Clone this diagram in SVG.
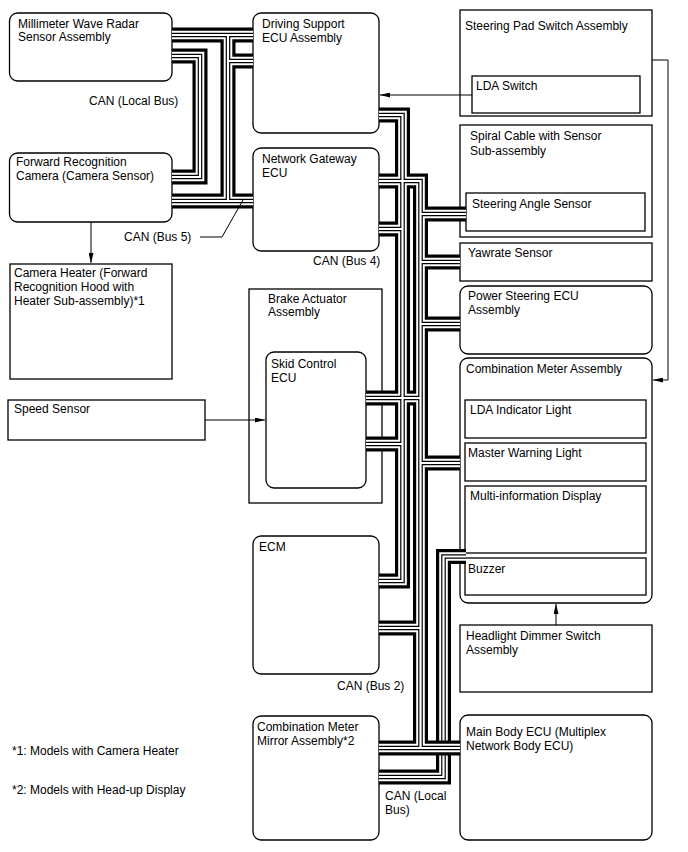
<svg xmlns="http://www.w3.org/2000/svg" width="688" height="852" viewBox="0 0 688 852">
<style>
text{font-family:"Liberation Sans",Arial,Helvetica,sans-serif;font-size:12px;fill:#000}
.box{fill:#fff;stroke:#000;stroke-width:1.3}
.ln{fill:none;stroke:#000;stroke-width:1}
.b1{fill:none;stroke:#000;stroke-width:15}
.b2{fill:none;stroke:#fff;stroke-width:8.6}
.b3{fill:none;stroke:#000;stroke-width:4.6}
.b4{fill:none;stroke:#fff;stroke-width:2.2}
</style>
<defs>
<marker id="arr" viewBox="0 0 10 5" refX="10" refY="2.5" markerWidth="10" markerHeight="5" markerUnits="userSpaceOnUse" orient="auto"><path d="M0,0 L10,2.5 L0,5 z" fill="#000"/></marker>
<path id="busLocal2" d="M379,777 H443.5 V556.5 H466"/>
<path id="busMain" d="M172,35 H253 M228,35 V201 M228,61 H253 M172,201 H253 M172,56 H200 V177 H172 M379,115 H402.5 V581 H379 M379,181 H420.5 V748 M379,229 H402.5 M420.5,214 H466 M420.5,262 H460 M420.5,324 H460 M420.5,463 H460 M366,398 H420.5 M366,444 H402.5 M379,628 H420.5 M379,748 H460"/>
</defs>
<rect width="688" height="852" fill="#fff"/>

<g id="n-mmw"><rect class="box" x="9.5" y="13" width="162.5" height="68" rx="8"/><text x="18" y="27.5">Millimeter Wave Radar</text><text x="18" y="41">Sensor Assembly</text></g>
<g id="n-cam"><rect class="box" x="9.5" y="153" width="162.5" height="69" rx="8"/><text x="16" y="166">Forward Recognition</text><text x="16" y="179.5">Camera (Camera Sensor)</text></g>
<g id="n-heater"><rect class="box" x="10" y="264" width="162" height="115"/><text x="14" y="277">Camera Heater (Forward</text><text x="14" y="291">Recognition Hood with</text><text x="14" y="305">Heater Sub-assembly)*1</text></g>
<g id="n-ds"><rect class="box" x="253" y="13" width="126" height="120" rx="8"/><text x="262" y="28">Driving Support</text><text x="262" y="42">ECU Assembly</text></g>
<g id="n-gw"><rect class="box" x="253" y="148" width="126" height="103" rx="8"/><text x="262" y="163">Network Gateway</text><text x="262" y="177">ECU</text></g>
<g id="n-brake"><rect class="box" x="249" y="289" width="133" height="214"/><text x="268" y="303">Brake Actuator</text><text x="268" y="316">Assembly</text></g>
<g id="n-skid"><rect class="box" x="266" y="352" width="100" height="136" rx="8"/><text x="271" y="368">Skid Control</text><text x="271" y="382">ECU</text></g>
<g id="n-speed"><rect class="box" x="8" y="400" width="197" height="40"/><text x="14" y="413">Speed Sensor</text></g>
<g id="n-ecm"><rect class="box" x="253" y="536" width="126" height="138" rx="8"/><text x="259" y="551">ECM</text></g>
<g id="n-cmm"><rect class="box" x="253" y="716" width="126" height="124" rx="8"/><text x="257" y="731">Combination Meter</text><text x="257" y="745">Mirror Assembly*2</text></g>
<g id="n-pad"><rect class="box" x="460" y="10" width="192" height="106"/><text x="465" y="30">Steering Pad Switch Assembly</text></g>
<g id="n-lda"><rect class="box" x="472" y="76" width="168" height="37"/><text x="476" y="90">LDA Switch</text></g>
<g id="n-spiral"><rect class="box" x="460" y="125" width="192" height="112"/><text x="470" y="140">Spiral Cable with Sensor</text><text x="470" y="155">Sub-assembly</text></g>
<g id="n-sas"><rect class="box" x="466" y="193" width="179" height="38"/><text x="472" y="208">Steering Angle Sensor</text></g>
<g id="n-yaw"><rect class="box" x="460" y="243" width="192" height="38"/><text x="468" y="257">Yawrate Sensor</text></g>
<g id="n-ps"><rect class="box" x="460" y="286" width="192" height="68" rx="8"/><text x="468" y="300">Power Steering ECU</text><text x="468" y="314">Assembly</text></g>
<g id="n-cm"><rect class="box" x="460" y="358" width="192" height="245" rx="8"/><text x="466" y="373">Combination Meter Assembly</text></g>
<g id="n-ldaind"><rect class="box" x="465" y="400" width="181" height="38"/><text x="470" y="414">LDA Indicator Light</text></g>
<g id="n-mwl"><rect class="box" x="465" y="443" width="181" height="38"/><text x="468" y="457">Master Warning Light</text></g>
<g id="n-mid"><rect class="box" x="465" y="486" width="181" height="67"/><text x="470" y="500">Multi-information Display</text></g>
<g id="n-buzzer"><rect class="box" x="465" y="558" width="181" height="37"/><text x="468" y="573">Buzzer</text></g>
<g id="n-head"><rect class="box" x="460" y="625" width="192" height="67"/><text x="466" y="640">Headlight Dimmer Switch</text><text x="466" y="654">Assembly</text></g>
<g id="n-mb"><rect class="box" x="460" y="715" width="192" height="125" rx="8"/><text x="466" y="736">Main Body ECU (Multiplex</text><text x="466" y="750">Network Body ECU)</text></g>

<g id="connectors">
<g id="bus-local-2">
<use href="#busLocal2" class="b1"/><use href="#busLocal2" class="b2"/><use href="#busLocal2" class="b3"/><use href="#busLocal2" class="b4"/>
</g>
<g id="bus-main">
<use href="#busMain" class="b1"/><use href="#busMain" class="b2"/><use href="#busMain" class="b3"/><use href="#busMain" class="b4"/>
</g>
<path class="ln" d="M472,95 H380" marker-end="url(#arr)"/>
<path class="ln" d="M652,60 H668 V380 H653" marker-end="url(#arr)"/>
<path class="ln" d="M91,222 V263" marker-end="url(#arr)"/>
<path class="ln" d="M205,420 H265" marker-end="url(#arr)"/>
<path class="ln" d="M556,625 V604" marker-end="url(#arr)"/>
<path class="ln" d="M200,237 H222 L243,200"/>
</g>

<g id="labels">
<text x="89" y="105">CAN (Local Bus)</text>
<text x="124" y="241">CAN (Bus 5)</text>
<text x="313" y="265">CAN (Bus 4)</text>
<text x="337" y="690">CAN (Bus 2)</text>
<text x="385" y="800">CAN (Local</text>
<text x="385" y="814">Bus)</text>
<text x="12" y="755">*1: Models with Camera Heater</text>
<text x="12" y="794">*2: Models with Head-up Display</text>
</g>
</svg>
